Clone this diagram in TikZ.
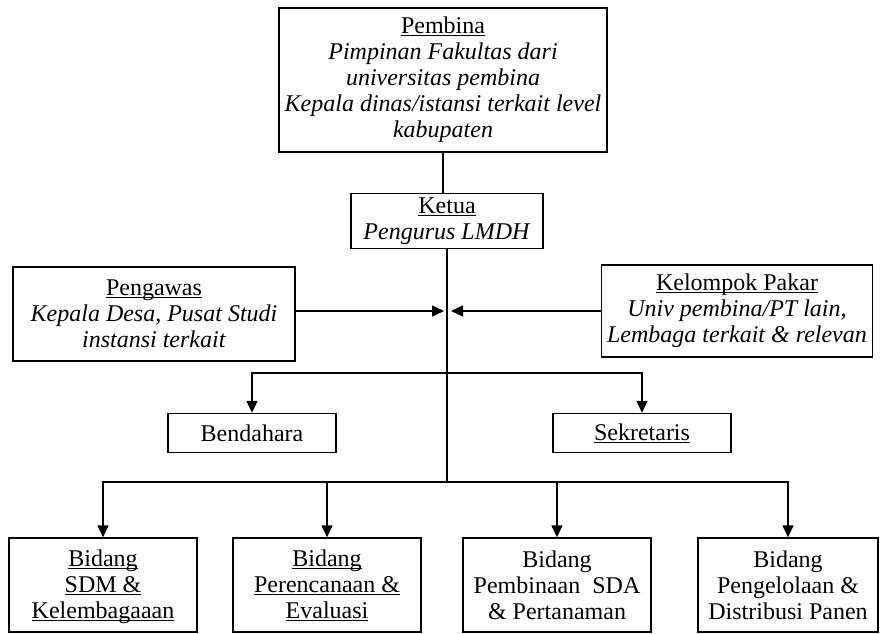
\documentclass[tikz,border=0pt]{standalone}
\usepackage{fontspec}
\setmainfont{Liberation Serif}
\usetikzlibrary{arrows.meta}

\newcommand{\uln}[1]{\underline{\raisebox{0pt}[\height][0pt]{#1}}}

\tikzset{
  box/.style={draw, line width=1.4pt, align=center, inner sep=2pt,
    font=\fontsize{24}{26}\selectfont},
  link/.style={line width=1.4pt},
  arrowlink/.style={line width=1.4pt, -{Triangle[length=12pt,width=11pt]}}
}

\begin{document}
\begin{tikzpicture}[x=1pt,y=1pt]
    \useasboundingbox (0,0) rectangle (880,633);

    % Pembina and Ketua
    \node[box, minimum width=328pt, minimum height=144pt] (pembina) at (443,553)
        {\uln{Pembina}\\ \textit{Pimpinan Fakultas dari}\\ \textit{universitas pembina}\\
         \textit{Kepala dinas/istansi terkait level}\\ \textit{kabupaten}};
    \node[box, minimum width=192pt, minimum height=55pt] (ketua) at (447,412)
        {\uln{Ketua}\\ \textit{Pengurus LMDH}};

    % Pengawas and Kelompok Pakar
    \node[box, minimum width=282pt, minimum height=94pt] (pengawas) at (154,319)
        {\uln{Pengawas}\\ \textit{Kepala Desa, Pusat Studi}\\ \textit{instansi terkait}};
    \node[box, minimum width=271pt, minimum height=92pt] (pakar) at (737,322)
        {\uln{Kelompok Pakar}\\ \textit{Univ pembina/PT lain,}\\ \textit{Lembaga terkait \& relevan}};

    % Bendahara and Sekretaris
    \node[box, minimum width=168pt, minimum height=39pt] (bendahara) at (252,200) {Bendahara};
    \node[box, minimum width=178pt, minimum height=39pt] (sekretaris) at (642,200) {\uln{Sekretaris}};

    % Bidang
    \node[box, minimum width=188pt, minimum height=94pt] (sdm) at (103,48)
        {\uln{Bidang}\\ \uln{SDM \&}\\ \uln{Kelembagaaan}};
    \node[box, minimum width=188pt, minimum height=94pt] (perencanaan) at (327,48)
        {\uln{Bidang}\\ \uln{Perencanaan \&}\\ \uln{Evaluasi}};
    \node[box, minimum width=188pt, minimum height=94pt] (sda) at (557,48)
        {Bidang\\ Pembinaan\ \ SDA\\ \& Pertanaman};
    \node[box, minimum width=180pt, minimum height=94pt] (panen) at (788,48)
        {Bidang\\ Pengelolaan \&\\ Distribusi Panen};

    % Spine
    \coordinate (spine) at (447,322);
    \coordinate (branch) at (447,260);
    \coordinate (bus) at (447,151);

    \draw[link] (pembina.south) -- (pembina.south |- ketua.north);
    \draw[link] (ketua.south) -- (bus);

    \draw[arrowlink] (pengawas.east |- spine) -- ([xshift=-3pt]spine);
    \draw[arrowlink] (pakar.west |- spine) -- ([xshift=4pt]spine);

    \draw[arrowlink] (branch) -| (bendahara.north);
    \draw[arrowlink] (branch) -| (sekretaris.north);

    \foreach \b in {sdm, perencanaan, sda, panen}
        \draw[arrowlink] (bus) -| (\b.north);
\end{tikzpicture}
\end{document}
